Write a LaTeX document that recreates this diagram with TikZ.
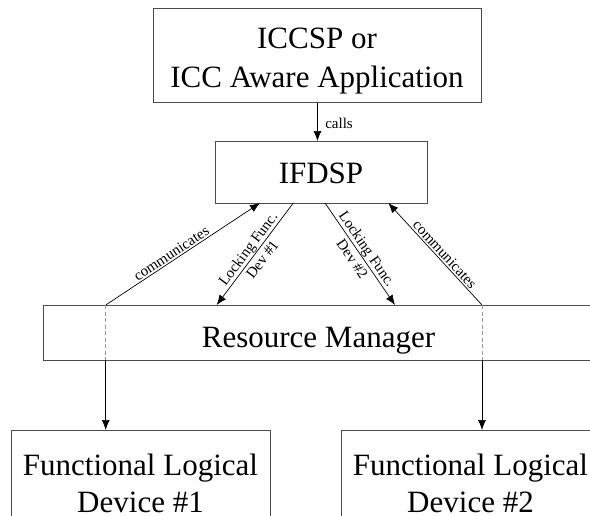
\documentclass[tikz,border=0pt]{standalone}
\usepackage{fontspec}
\setmainfont{Liberation Serif}
\usetikzlibrary{arrows.meta}
\begin{document}
\begin{tikzpicture}[x=1pt,y=-1pt,
  box/.style={draw=black!70, line width=0.9pt, inner sep=0pt, anchor=north west},
  big/.style={font=\fontsize{31}{39}\selectfont, inner sep=0pt, anchor=base},
  small/.style={font=\fontsize{15}{18}\selectfont, inner sep=1.5pt},
  conn/.style={draw=black, line width=0.7pt, -{Latex[length=10pt,width=8pt]}},
  dashline/.style={draw=black!40, line width=0.7pt, dash pattern=on 4pt off 2.5pt}
]
\useasboundingbox (0,0) rectangle (590,515);
% boxes
\node[box, minimum width=328pt, minimum height=94pt] (top) at (153,8) {};
\node[box, minimum width=212pt, minimum height=62pt] (ifdsp) at (215,141) {};
\node[box, minimum width=552pt, minimum height=55pt] (rm) at (43,305) {};
\node[box, minimum width=259pt, minimum height=120pt] (fld1) at (11,430) {};
\node[box, minimum width=259pt, minimum height=120pt] (fld2) at (341,430) {};
% texts
\node[big] (topa) at (317,48) {ICCSP or};
\node[big] (topb) at (317,87) {ICC Aware Application};
\node[big] (ifdspt) at (321,183) {IFDSP};
\node[big] (rmt) at (318.5,347) {Resource Manager};
\node[big] (fld1a) at (140.5,475) {Functional Logical};
\node[big] (fld1b) at (140.5,512) {Device \#1};
\node[big] (fld2a) at (470.5,475) {Functional Logical};
\node[big] (fld2b) at (470.5,512) {Device \#2};
% connection points
\coordinate (ib1) at (260,203);
\coordinate (ib2) at (293.3,203);
\coordinate (ib3) at (325,203);
\coordinate (ib4) at (388.3,203);
\coordinate (rt1) at (105.7,305);
\coordinate (rt2) at (216.7,305);
\coordinate (rt3) at (395,305);
\coordinate (rt4) at (482,305);
\coordinate (rb1) at (105.7,360);
\coordinate (rb4) at (482,360);
% connectors
\draw[conn] (top.south) -- node[small, anchor=west, pos=0.55, xshift=6pt] (callst) {calls} (top.south |- ifdsp.north);
\draw[conn] (rt1) -- node[small, sloped, above, pos=0.45] (comm1) {communicates} (ib1);
\draw[conn] (ib2) -- node[small, sloped, align=center] (lock1) {Locking Func.\\Dev \#1} (rt2);
\draw[conn] (ib3) -- node[small, sloped, align=center] (lock2) {Locking Func.\\Dev \#2} (rt3);
\draw[conn] (rt4) -- node[small, sloped, above, pos=0.45] (comm2) {communicates} (ib4);
\draw[dashline] (rt1) -- (rb1);
\draw[dashline] (rt4) -- (rb4);
\draw[conn] (rb1) -- (rb1 |- fld1.north);
\draw[conn] (rb4) -- (rb4 |- fld2.north);
\end{tikzpicture}
\end{document}
